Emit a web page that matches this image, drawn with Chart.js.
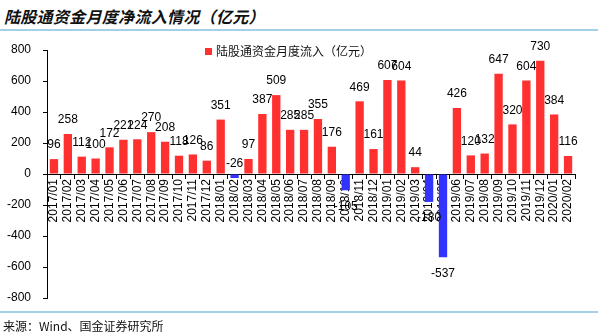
<!DOCTYPE html>
<html>
<head>
<meta charset="utf-8">
<script src="https://cdn.jsdelivr.net/npm/chart.js@4/dist/chart.umd.min.js"></script>
<style>
  body { margin: 0; width: 600px; height: 336px; background: #fff; position: relative; overflow: hidden; font-family: "Liberation Sans", Arial, sans-serif; }
  .title { position: absolute; left: 4px; top: 4px; font: italic 700 16px "Noto Sans CJK SC"; color: #111; letter-spacing: 0.3px; }
  .rule { position: absolute; left: 0; width: 598px; height: 2px; background: #a3cfe8; }
  .legend { position: absolute; left: 205px; top: 42px; font: 12px "Noto Sans CJK SC"; color: #111; z-index: 2; }
  .legend i { display: inline-block; width: 7px; height: 7px; background: #ff3030; margin-right: 4px; vertical-align: 1px; }
  .source { position: absolute; left: 3px; top: 317px; font: 12px "Noto Sans CJK SC"; color: #111; }
  .wrap { position: absolute; left: 0; top: 32px; width: 600px; height: 280px; }
</style>
</head>
<body>
<div class="title">陆股通资金月度净流入情况（亿元）</div>
<div class="rule" style="top:29px"></div>
<div class="legend"><i></i>陆股通资金月度流入（亿元）</div>
<div class="wrap"><canvas id="flow-chart"></canvas></div>
<div class="rule" style="top:311px"></div>
<div class="source">来源：Wind、国金证券研究所</div>
<script>
// months 2017/01 - 2020/02
const months = [
    '2017/01', '2017/02', '2017/03', '2017/04', '2017/05', '2017/06', '2017/07', '2017/08', '2017/09', '2017/10', '2017/11', '2017/12',
    '2018/01', '2018/02', '2018/03', '2018/04', '2018/05', '2018/06', '2018/07', '2018/08', '2018/09', '2018/10', '2018/11', '2018/12',
    '2019/01', '2019/02', '2019/03', '2019/04', '2019/05', '2019/06', '2019/07', '2019/08', '2019/09', '2019/10', '2019/11', '2019/12',
    '2020/01', '2020/02'
]
const netFlow = [
    96, 258, 112, 100, 172, 221, 224, 270, 208, 118, 126, 86,
    351, -26, 97, 387, 509, 285, 285, 355, 176, -105, 469, 161,
    607, 604, 44, -180, -537, 426, 120, 132, 647, 320, 604, 730,
    384, 116
]
const yTicks = [-800, -600, -400, -200, 0, 200, 400, 600, 800]

const red = '#ff3030'
const blue = '#3333ff'

// value labels over / under each bar
const valueLabels = {
    id: 'valueLabels',
    afterDatasetsDraw(chart) {
        const ctx = chart.ctx
        const meta = chart.getDatasetMeta(0)
        const zeroY = chart.scales.y.getPixelForValue(0)
        ctx.save()
        ctx.font = '12px "Liberation Sans", Arial'
        ctx.fillStyle = '#000'
        ctx.textAlign = 'center'
        ctx.textBaseline = 'middle'
        meta.data.forEach((bar, i) => {
            const v = netFlow[i]
            let y
            if (v >= 0) y = bar.y - 14
            else if (v > -50) y = zeroY - 10
            else y = bar.y + 16
            ctx.fillText(String(v), bar.x, y)
        })
        ctx.restore()
    }
}

const flowCanva = document.getElementById('flow-chart')

const flowChart = new Chart(flowCanva, {
    type: 'bar',
    data: {
        labels: months,
        datasets: [{
            data: netFlow,
            backgroundColor: netFlow.map(v => v < 0 ? blue : red),
            borderWidth: 0,
            categoryPercentage: 1,
            barPercentage: 0.6
        }]
    },
    options: {
        responsive: true,
        maintainAspectRatio: false,
        animation: false,
        layout: {
            padding: { top: 18, right: 25, bottom: 14, left: 0 }
        },
        plugins: {
            legend: { display: false },
            tooltip: { enabled: false }
        },
        scales: {
            x: {
                position: { y: 0 },
                afterFit: (scale) => { scale.height = 0 },
                grid: { drawOnChartArea: false, color: '#000', tickLength: 4, offset: true },
                border: { color: '#000', width: 1 },
                ticks: {
                    color: '#000',
                    font: { size: 12, family: '"Liberation Sans", Arial' },
                    minRotation: 90,
                    maxRotation: 90,
                    autoSkip: false,
                    padding: 1
                }
            },
            y: {
                min: yTicks[0],
                max: yTicks[yTicks.length - 1],
                afterFit: (scale) => {
                    scale.width = 47
                    scale.paddingTop = 0
                    scale.paddingBottom = 0
                },
                afterBuildTicks: (scale) => { scale.ticks = yTicks.map(v => ({ value: v })) },
                grid: { drawOnChartArea: false, color: '#000', tickLength: 4 },
                border: { color: '#000', width: 1 },
                ticks: {
                    color: '#000',
                    font: { size: 12, family: '"Liberation Sans", Arial' },
                    padding: 12
                }
            }
        }
    },
    plugins: [valueLabels]
});
</script>
</body>
</html>
